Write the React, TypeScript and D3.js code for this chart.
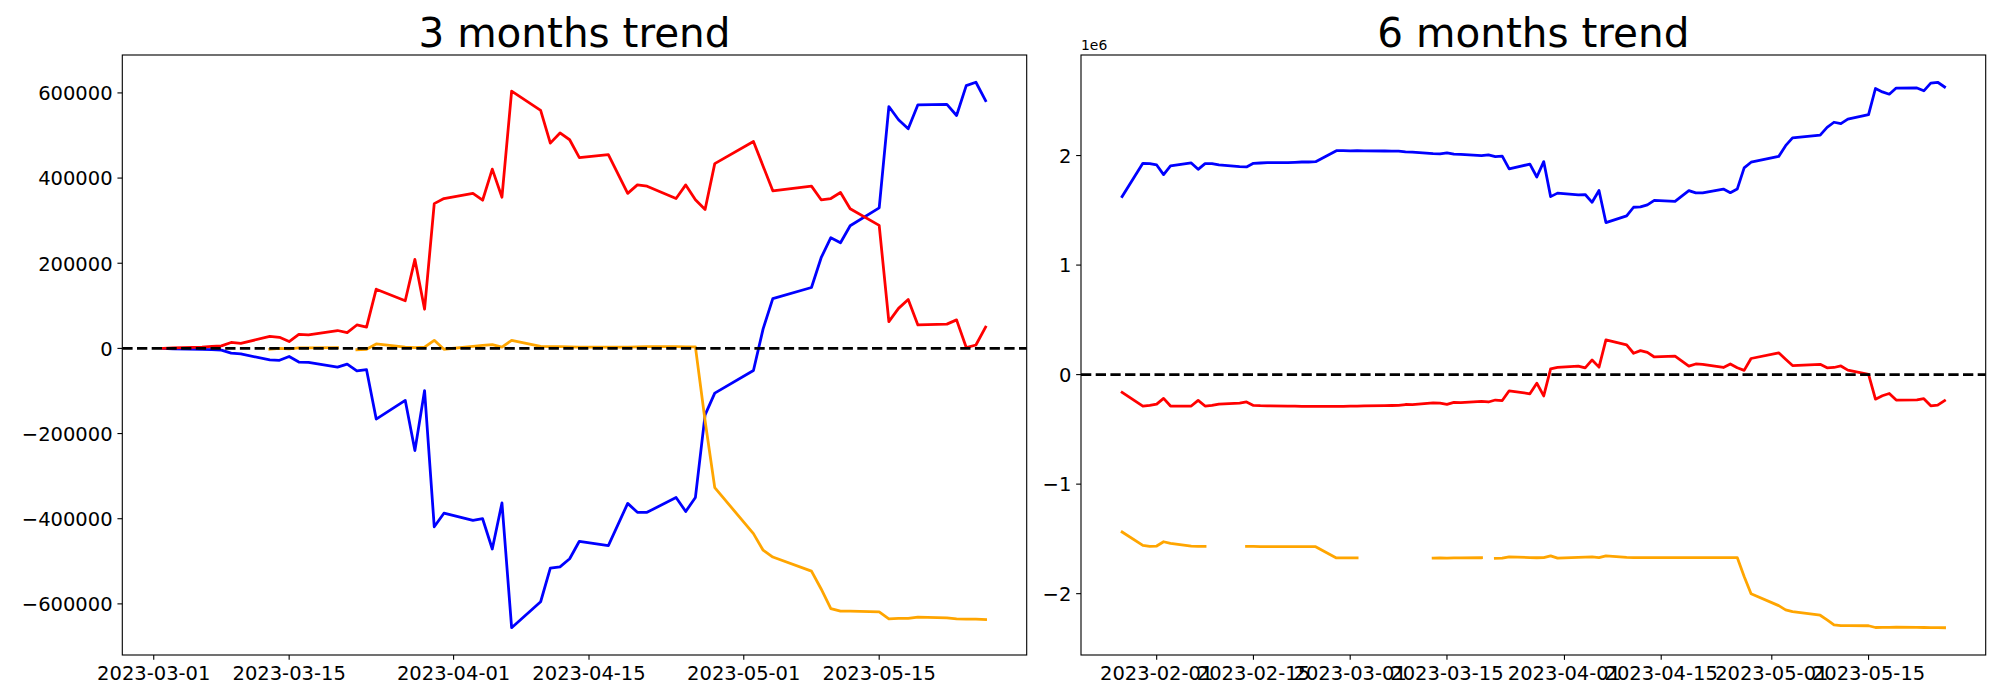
import React from "react";
import * as d3 from "d3";

// ---------- 3 months data ----------
const leftDates = [
  "2023-03-02","2023-03-03","2023-03-06","2023-03-07","2023-03-08","2023-03-09","2023-03-10",
  "2023-03-13","2023-03-14","2023-03-15","2023-03-16","2023-03-17","2023-03-20","2023-03-21",
  "2023-03-22","2023-03-23","2023-03-24","2023-03-27","2023-03-28","2023-03-29","2023-03-30",
  "2023-03-31","2023-04-03","2023-04-04","2023-04-05","2023-04-06","2023-04-07","2023-04-10",
  "2023-04-11","2023-04-12","2023-04-13","2023-04-14","2023-04-17","2023-04-19","2023-04-20",
  "2023-04-21","2023-04-24","2023-04-25","2023-04-26","2023-04-27","2023-04-28","2023-05-02",
  "2023-05-03","2023-05-04","2023-05-08","2023-05-09","2023-05-10","2023-05-11","2023-05-12",
  "2023-05-15","2023-05-16","2023-05-17","2023-05-18","2023-05-19","2023-05-22","2023-05-23",
  "2023-05-24","2023-05-25","2023-05-26",
];
const leftBlue = [
  0, -1000, -2500, -3000, -4000, -11000, -13000, -27000, -28000, -19000, -32000, -33000, -44000, -37000,
  -53000, -50000, -166000, -122000, -240000, -99000, -419000, -387000, -404000, -400000, -471000, -363000,
  -656000, -595000, -516000, -513000, -494000, -453000, -463000, -364000, -385000, -385000, -350000,
  -383000, -350000, -156000, -105000, -52000, 46000, 117000, 143000, 213000, 260000, 248000, 288000,
  330000, 568000, 537000, 516000, 572000, 573000, 547000, 617000, 625000, 582000,
];
const leftRed = [
  0, 1000, 3000, 5000, 6000, 14000, 12000, 28000, 26000, 16000, 33000, 32000, 42000, 37000,
  55000, 50000, 139000, 112000, 209000, 92000, 340000, 352000, 364000, 348000, 421000, 355000,
  604000, 559000, 482000, 506000, 490000, 448000, 455000, 364000, 384000, 381000, 352000,
  384000, 349000, 326000, 434000, 486000, 428000, 370000, 381000, 349000, 352000, 366000, 328000,
  289000, 63000, 94000, 115000, 55000, 57000, 67000, 2000, 8000, 50000,
];
const leftOrange: (number | null)[] = [
  null, null, null, null, null, null, null, -2000, 0, -1000, 1000, 1000, 2000, null,
  -3000, -2000, 10500, 3000, 2000, 3000, 19000, -2000, 5000, 7000, 9000, 3000,
  19000, 5000, 4000, 4000, 3500, 3000, 3000, 3000, 3500, 4000, 4000,
  3500, 3500, -170000, -327000, -435000, -474000, -490000, -523000, -565000, -611000, -617000, -617000,
  -619000, -635000, -634000, -634000, -631000, -633000, -635000, -636000, -636000, -637000,
];
const leftXTicks = ["2023-03-01","2023-03-15","2023-04-01","2023-04-15","2023-05-01","2023-05-15"];
const leftYTicks = [-600000, -400000, -200000, 0, 200000, 400000, 600000];

// ---------- 6 months data ----------
const rightDates = [
  "2023-01-27","2023-01-30","2023-01-31","2023-02-01","2023-02-02","2023-02-03","2023-02-06",
  "2023-02-07","2023-02-08","2023-02-09","2023-02-10","2023-02-13","2023-02-14","2023-02-15",
  "2023-02-16","2023-02-17","2023-02-20","2023-02-21","2023-02-22","2023-02-23","2023-02-24",
  "2023-02-27","2023-02-28","2023-03-01",
  "2023-03-02","2023-03-03","2023-03-06","2023-03-07","2023-03-08","2023-03-09","2023-03-10",
  "2023-03-13","2023-03-14","2023-03-15","2023-03-16","2023-03-17","2023-03-20","2023-03-21",
  "2023-03-22","2023-03-23","2023-03-24","2023-03-27","2023-03-28","2023-03-29","2023-03-30",
  "2023-03-31","2023-04-03","2023-04-04","2023-04-05","2023-04-06","2023-04-07","2023-04-10",
  "2023-04-11","2023-04-12","2023-04-13","2023-04-14","2023-04-17","2023-04-19","2023-04-20",
  "2023-04-21","2023-04-24","2023-04-25","2023-04-26","2023-04-27","2023-04-28","2023-05-02",
  "2023-05-03","2023-05-04","2023-05-08","2023-05-09","2023-05-10","2023-05-11","2023-05-12",
  "2023-05-15","2023-05-16","2023-05-17","2023-05-18","2023-05-19","2023-05-22","2023-05-23",
  "2023-05-24","2023-05-25","2023-05-26",
];
const rightBlue = [
  1626000, 1929000, 1926000, 1914000, 1826000, 1905000, 1932000, 1874000, 1926000, 1926000,
  1914000, 1899000, 1896000, 1929000, 1932000, 1935000, 1935000, 1938000, 1941000, 1941000,
  1944000, 2044000, 2044000, 2043000,
  2044000, 2043000, 2041500, 2041000, 2040000, 2033000, 2031000, 2017000, 2016000, 2025000,
  2012000, 2011000, 2000000, 2007000, 1991000, 1994000, 1878000, 1922000, 1804000, 1945000,
  1625000, 1657000, 1640000, 1644000, 1573000, 1681000, 1388000, 1449000, 1528000, 1531000,
  1550000, 1591000, 1581000, 1680000, 1659000, 1659000, 1694000, 1661000, 1694000, 1888000,
  1939000, 1992000, 2090000, 2161000, 2187000, 2257000, 2304000, 2292000, 2332000, 2374000,
  2612000, 2581000, 2560000, 2616000, 2617000, 2591000, 2661000, 2669000, 2626000,
];
const rightRed = [
  -162000, -287000, -281000, -269000, -217000, -287000, -287000, -235000, -287000, -281000,
  -269000, -260000, -250000, -281000, -284000, -285000, -287000, -287000, -290000, -290000,
  -290000, -290000, -290000, -288000,
  -287000, -286000, -284000, -282000, -281000, -273000, -275000, -259000, -261000, -271000,
  -254000, -255000, -245000, -250000, -232000, -237000, -148000, -175000, -78000, -195000,
  53000, 65000, 77000, 61000, 134000, 68000, 317000, 272000, 195000, 219000,
  203000, 161000, 168000, 77000, 97000, 94000, 65000, 97000, 62000, 39000,
  147000, 199000, 141000, 83000, 94000, 62000, 65000, 79000, 41000, 2000,
  -224000, -193000, -172000, -232000, -230000, -220000, -285000, -279000, -237000,
];
const rightOrange: (number | null)[] = [
  -1437000, -1559000, -1568000, -1565000, -1526000, -1541000, -1565000, -1568000, -1568000, null,
  null, null, -1568000, -1568000, -1570000, -1570000, -1571000, -1571000, -1571000, -1571000,
  -1571000, -1674000, -1674000, -1674000,
  -1674000, null, null, null, null, null, null, -1676000, -1674000, -1675000,
  -1673000, -1673000, -1672000, null, -1677000, -1676000, -1663500, -1671000, -1672000, -1671000,
  -1655000, -1676000, -1669000, -1667000, -1665000, -1671000, -1655000, -1669000, -1670000, -1670000,
  -1670500, -1671000, -1671000, -1671000, -1670500, -1670000, -1670000, -1670500, -1670500, -1844000,
  -2001000, -2109000, -2148000, -2164000, -2197000, -2239000, -2285000, -2291000, -2291000, -2293000,
  -2309000, -2308000, -2308000, -2305000, -2307000, -2309000, -2310000, -2310000, -2311000,
];
const rightXTicks = ["2023-02-01","2023-02-15","2023-03-01","2023-03-15","2023-04-01","2023-04-15","2023-05-01","2023-05-15"];
const rightYTicks = [-2000000, -1000000, 0, 1000000, 2000000];

const parse = d3.utcParse("%Y-%m-%d");
const FONT = "'DejaVu Sans', sans-serif";
const fmtMinus = (s: string) => s.replace("-", "\u2212");

type Series = { values: (number | null)[]; color: string };

function Panel(props: {
  left: number; right: number; top: number; bottom: number;
  title: string; dates: string[]; series: Series[];
  xTicks: string[]; yTicks: number[]; yLabel: (v: number) => string; offsetText?: string;
}) {
  const { left, right, top, bottom, title, dates, series, xTicks, yTicks, yLabel, offsetText } = props;
  const ds = dates.map((d) => parse(d) as Date);
  const [dMin, dMax] = d3.extent(ds) as [Date, Date];
  const span = +dMax - +dMin;
  const x = d3.scaleUtc()
    .domain([new Date(+dMin - span * 0.05), new Date(+dMax + span * 0.05)])
    .range([left, right]);
  const all: number[] = [];
  series.forEach((s) => s.values.forEach((v) => { if (v != null) all.push(v); }));
  const yMin = d3.min(all) as number, yMax = d3.max(all) as number;
  const ySpan = yMax - yMin;
  const y = d3.scaleLinear().domain([yMin - ySpan * 0.05, yMax + ySpan * 0.05]).range([bottom, top]);

  const line = d3.line<number | null>()
    .defined((v) => v != null)
    .x((_, i) => x(ds[i]))
    .y((v) => y(v as number));

  const tickLen = 4.86;
  const cx = (left + right) / 2;
  return (
    <g>
      <text x={cx} y={top - 8.3} textAnchor="middle" fontFamily={FONT} fontSize={40.5} fill="#000">{title}</text>
      {offsetText && (
        <text x={left} y={top - 5} fontFamily={FONT} fontSize={13.9} fill="#000">{offsetText}</text>
      )}
      {series.map((s, i) => (
        <path key={i} d={line(s.values) || ""} fill="none" stroke={s.color} strokeWidth={2.78}
          strokeLinejoin="round" strokeLinecap="square" />
      ))}
      <line x1={left} x2={right} y1={y(0)} y2={y(0)} stroke="#000" strokeWidth={2.78}
        strokeDasharray="10.3 4.4" />
      <rect x={left} y={top} width={right - left} height={bottom - top} fill="none" stroke="#000" strokeWidth={1.11} />
      {xTicks.map((t) => {
        const xx = x(parse(t) as Date);
        return (
          <g key={t}>
            <line x1={xx} x2={xx} y1={bottom} y2={bottom + tickLen} stroke="#000" strokeWidth={1.11} />
            <text x={xx} y={bottom + 25} textAnchor="middle" fontFamily={FONT} fontSize={19.5} fill="#000">{t}</text>
          </g>
        );
      })}
      {yTicks.map((t) => {
        const yy = y(t);
        return (
          <g key={t}>
            <line x1={left - tickLen} x2={left} y1={yy} y2={yy} stroke="#000" strokeWidth={1.11} />
            <text x={left - 9.7} y={yy + 7.3} textAnchor="end" fontFamily={FONT} fontSize={19.5} fill="#000">{yLabel(t)}</text>
          </g>
        );
      })}
    </g>
  );
}

export default function App() {
  return (
    <svg width={2000} height={700} style={{ position: "absolute", left: 0, top: 0, background: "#fff" }}>
      <rect x={0} y={0} width={2000} height={700} fill="#fff" />
      <Panel left={122.3} right={1026.7} top={55} bottom={655} title="3 months trend"
        dates={leftDates}
        series={[
          { values: leftBlue, color: "#0000ff" },
          { values: leftRed, color: "#ff0000" },
          { values: leftOrange, color: "#ffa500" },
        ]}
        xTicks={leftXTicks} yTicks={leftYTicks}
        yLabel={(v) => fmtMinus(String(v))} />
      <Panel left={1081} right={1985.7} top={55} bottom={655} title="6 months trend"
        dates={rightDates}
        series={[
          { values: rightBlue, color: "#0000ff" },
          { values: rightRed, color: "#ff0000" },
          { values: rightOrange, color: "#ffa500" },
        ]}
        xTicks={rightXTicks} yTicks={rightYTicks}
        yLabel={(v) => fmtMinus(String(v / 1e6))} offsetText="1e6" />
    </svg>
  );
}
